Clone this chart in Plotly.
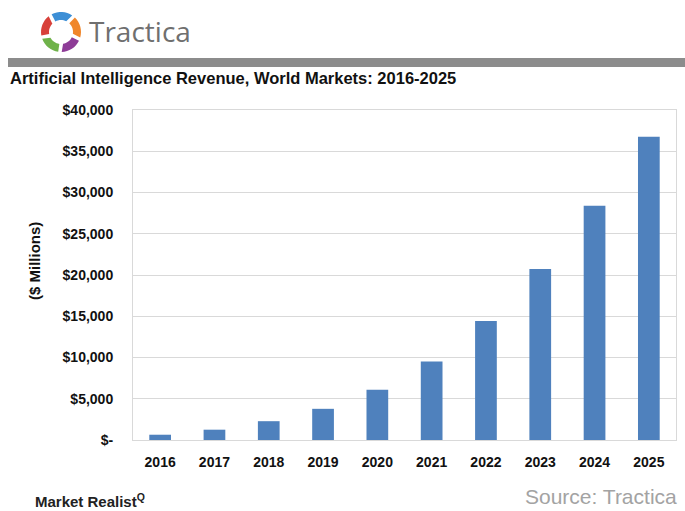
import math
import plotly.graph_objects as go

years = ["2016", "2017", "2018", "2019", "2020", "2021", "2022", "2023", "2024", "2025"]
revenue = [640, 1250, 2280, 3780, 6090, 9520, 14430, 20720, 28380, 36750]
y_tickvals = [0, 5000, 10000, 15000, 20000, 25000, 30000, 35000, 40000]
y_ticktext = ["$-", "$5,000", "$10,000", "$15,000", "$20,000", "$25,000", "$30,000", "$35,000", "$40,000"]

W, H = 685, 511
L, R, T, B = 133, 9, 110, 71
PW, PH = W - L - R, H - T - B


def px(x):
    return (x - L) / PW


def py(y):
    return (H - B - y) / PH


fig = go.Figure(go.Bar(x=years, y=revenue, marker=dict(color="#4f81bd", line=dict(width=0))))

shapes = []
# gray header rule
shapes.append(dict(type="rect", xref="paper", yref="paper", x0=px(8), x1=px(685), y0=py(67), y1=py(58),
                   fillcolor="#8c8c8c", line=dict(width=0), layer="above"))

# logo ring segments
cx, cy = 61, 32
ro, ri = 20, 12
seg_colors = ["#3d8fd6", "#f0862a", "#8e3c97", "#6fb24a", "#d8403a"]
starts = [-118, -46, 26, 98, 170]
for col, a0 in zip(seg_colors, starts):
    a1 = a0 + 62
    pts = []
    n = 8
    for i in range(n + 1):
        a = math.radians(a0 + (a1 - a0) * i / n)
        pts.append((cx + ro * math.cos(a), cy + ro * math.sin(a)))
    for i in range(n + 1):
        a = math.radians(a1 - 8 - (a1 - a0 - 8) * i / n)
        pts.append((cx + ri * math.cos(a), cy + ri * math.sin(a)))
    path = "M " + " L ".join(f"{px(x):.5f},{py(y):.5f}" for x, y in pts) + " Z"
    shapes.append(dict(type="path", xref="paper", yref="paper", path=path,
                       fillcolor=col, line=dict(width=0), layer="above"))

annotations = [
    dict(text="Tractica", xref="paper", yref="paper", x=px(87), y=py(31), xanchor="left", yanchor="middle",
         showarrow=False, font=dict(family="Open Sans", size=28, color="#6f6f6f")),
    dict(text="<b>Artificial Intelligence Revenue, World Markets: 2016-2025</b>", xref="paper", yref="paper",
         x=px(8), y=py(78), xanchor="left", yanchor="middle", showarrow=False,
         font=dict(family="Liberation Sans", size=16.5, color="#111111")),
    dict(text="<b>($ Millions)</b>", xref="paper", yref="paper", x=px(34), y=py(261), xanchor="center",
         yanchor="middle", textangle=-90, showarrow=False,
         font=dict(family="Liberation Sans", size=15, color="#111111")),
    dict(text="<b>Market Realist</b><sup><b>Q</b></sup>", xref="paper", yref="paper", x=px(33), y=py(500),
         xanchor="left", yanchor="middle", showarrow=False,
         font=dict(family="Liberation Sans", size=15, color="#222222")),
    dict(text="Source: Tractica", xref="paper", yref="paper", x=px(679), y=py(496), xanchor="right",
         yanchor="middle", showarrow=False, font=dict(family="Liberation Sans", size=21, color="#a3a3a3")),
]

fig.update_layout(
    width=W, height=H,
    margin=dict(l=L, r=R, t=T, b=B, pad=0),
    paper_bgcolor="white", plot_bgcolor="white",
    bargap=0.6,
    showlegend=False,
    shapes=shapes,
    annotations=annotations,
    xaxis=dict(showgrid=False, showline=True, mirror=True, linecolor="#d9d9d9", linewidth=1,
               ticks="", ticklabelstandoff=9,
               tickfont=dict(family="Liberation Sans", size=14, color="#111111", weight="bold"),
               fixedrange=True),
    yaxis=dict(range=[0, 40000], tickvals=y_tickvals, ticktext=y_ticktext, showgrid=True,
               gridcolor="#d9d9d9", gridwidth=1, showline=True, mirror=True, linecolor="#d9d9d9",
               linewidth=1, zeroline=False, ticks="", ticklabelstandoff=16,
               tickfont=dict(family="Liberation Sans", size=14, color="#111111", weight="bold"),
               fixedrange=True),
)

fig.write_html("out.html", config={"displayModeBar": False},
               post_script="document.body.style.margin='0';document.body.style.overflow='hidden';")
